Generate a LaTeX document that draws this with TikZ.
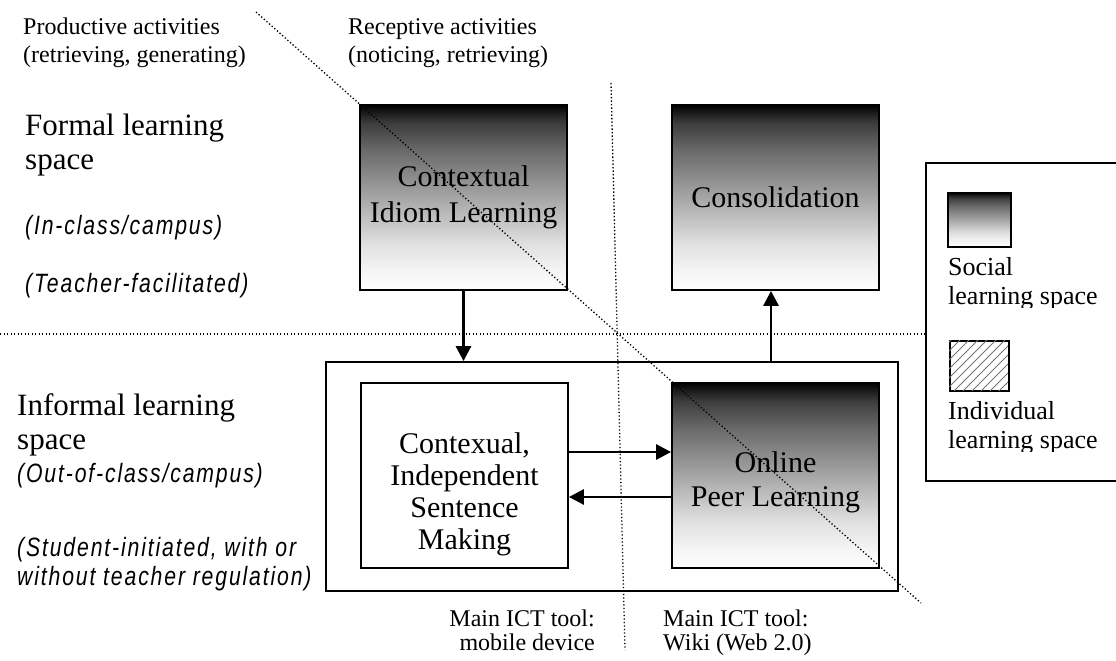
\documentclass[tikz,border=0pt]{standalone}
\usepackage{fontspec}
\setmainfont{Liberation Serif}
\newfontfamily\nsans[FakeStretch=0.8,LetterSpace=7]{Liberation Sans}
\usetikzlibrary{arrows.meta}
\pgfdeclareverticalshading{boxgrad}{100bp}{color(0bp)=(white); color(25bp)=(white); color(30bp)=(black!4); color(37.5bp)=(black!12); color(50bp)=(black!35); color(62.5bp)=(black!58); color(70bp)=(black!76); color(72.5bp)=(black!87); color(75bp)=(black); color(100bp)=(black)}
\begin{document}
\begin{tikzpicture}[x=1bp,y=-1bp,
  lbl/.style={inner sep=0, anchor=base west, font=\fontsize{24bp}{28bp}\selectfont},
  lblr/.style={lbl, anchor=base east},
  big/.style={inner sep=0, anchor=base west, font=\fontsize{31bp}{35bp}\selectfont},
  sub/.style={inner sep=0, anchor=base west, font=\nsans\itshape\fontsize{26.5bp}{30bp}\selectfont},
  leg/.style={inner sep=0, anchor=base west, font=\fontsize{26bp}{30bp}\selectfont},
  stage/.style={draw, line width=1.8bp, minimum width=207bp, minimum height=185bp, align=center, inner sep=0, font=\fontsize{30bp}{36bp}\selectfont},
  social/.style={stage, shade, shading=boxgrad},
  boxtext/.style={inner sep=0, align=center, anchor=center},
  arr/.style={line width=2.8bp, -{Triangle[length=15bp,width=15bp]}},
  dots/.style={line width=1.3bp, dash pattern=on 1.3bp off 2.2bp},
]
\useasboundingbox (0,0) rectangle (1116,661);
\clip (0,0) rectangle (1116,661);

% top labels
\node[lbl] (prod1) at (23,35) {Productive activities};
\node[lbl] (prod2) at (23,63) {(retrieving, generating)};
\node[lbl] (rec1) at (348,35) {Receptive activities};
\node[lbl] (rec2) at (348,63) {(noticing, retrieving)};

% left labels
\node[big] (f1) at (25,136) {Formal learning};
\node[big] (f2) at (25,170) {space};
\node[sub] (f3) at (25,234) {(In-class/campus)};
\node[sub] (f4) at (25,292) {(Teacher-facilitated)};
\node[big] (i1) at (17,415) {Informal learning};
\node[big] (i2) at (17,449) {space};
\node[sub] (i3) at (17,482) {(Out-of-class/campus)};
\node[sub] (i4) at (17,556) {(Student-initiated, with or};
\node[sub] (i5) at (17,585) {without teacher regulation)};

% boxes
\node[social] (cil) at (463.5,197.5) {Contextual\\Idiom Learning};
\node[social] (cons) at (775.5,197.5) {Consolidation};
\node[draw, line width=1.8bp, minimum width=572bp, minimum height=229bp, inner sep=0] (outer) at (612,476.5) {};
\node[stage] (cism) at (464.5,475.5) {};
\node[boxtext, font=\fontsize{30bp}{32bp}\selectfont] (cismtxt) at (464.5,494) {Contexual,\\Independent\\Sentence\\Making};
\node[social] (opl) at (775.5,475.5) {};
\node[boxtext, font=\fontsize{30bp}{34bp}\selectfont] (opltxt) at (775.5,482) {Online\\Peer Learning};

% arrows
\draw[arr] (cil.south) -- (cil.south |- outer.north);
\draw[arr] ([xshift=-4.5bp]cons.south |- outer.north) -- ([xshift=-4.5bp]cons.south);
\draw[arr] ([yshift=23.5bp]cism.east) -- ([yshift=23.5bp]opl.west);
\draw[arr] ([yshift=-21.5bp]opl.west) -- ([yshift=-21.5bp]cism.east);

% legend
\node[draw, line width=1.8bp, anchor=north west, minimum width=230bp, minimum height=318bp, inner sep=0] (legend) at (925,162) {};
\node[draw, line width=1.5bp, shade, shading=boxgrad, anchor=north west, minimum width=63bp, minimum height=54bp, inner sep=0] (lgsoc) at (947,192) {};
\node[draw, line width=1.5bp, anchor=north west, minimum width=59bp, minimum height=50bp, inner sep=0] (lgind) at (949,340) {};
\begin{scope}
\clip (949,340) rectangle (1008,390);
\foreach \x in {890,899,...,1010} \draw[black!55, line width=0.9bp] (\x,392) -- ++(54,-54);
\end{scope}
\begin{scope}
\clip (940,250) rectangle (1116,307);
\node[leg] (ls1) at (948,275) {Social};
\node[leg] (ls2) at (948,304) {learning space};
\end{scope}
\begin{scope}
\clip (940,395) rectangle (1116,451);
\node[leg] (li1) at (948,419) {Individual};
\node[leg] (li2) at (948,448) {learning space};
\end{scope}

% bottom labels
\node[lblr] (t1) at (595,626) {Main ICT tool:};
\node[lblr] (t2) at (595,650) {mobile device};
\node[lbl] (t3) at (663,626) {Main ICT tool:};
\node[lbl] (t4) at (663,650) {Wiki (Web 2.0)};

% dotted lines
\draw[dots] (0,334) -- (legend.west |- 0,334);
\draw[dots] (611,83) -- (625,650);
\draw[dots] (256,12) -- (921,603);
\end{tikzpicture}
\end{document}
